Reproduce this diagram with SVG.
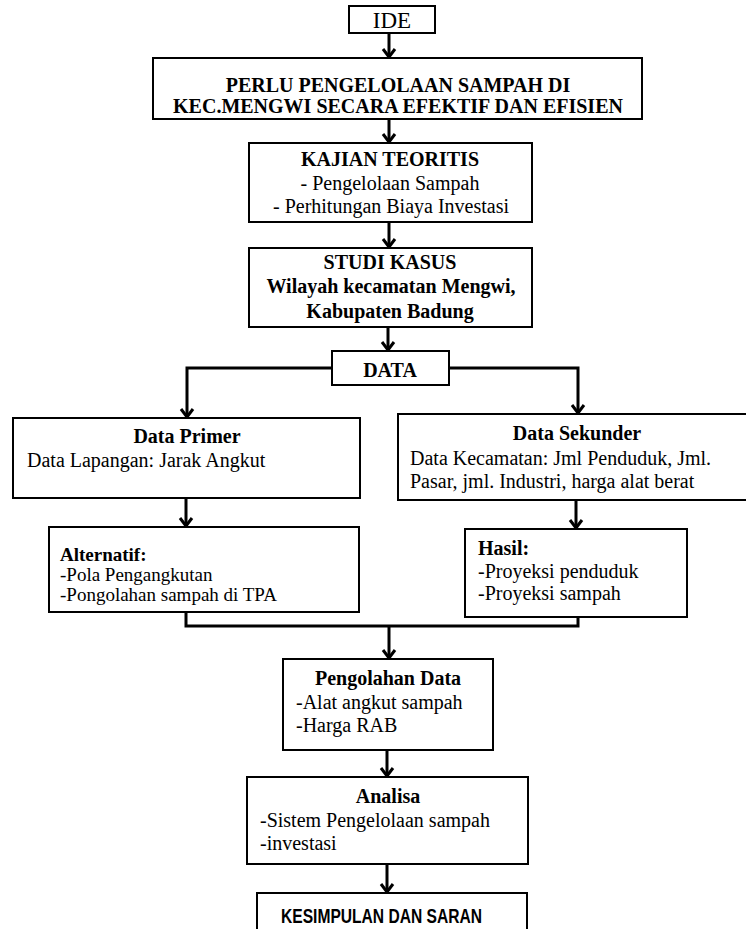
<svg xmlns="http://www.w3.org/2000/svg" width="746" height="929" viewBox="0 0 746 929">
<style>
.box{fill:#fff;stroke:#000;stroke-width:2}
.t{font-family:'Liberation Serif','Times New Roman','DejaVu Serif',serif;font-size:20px;fill:#000}
.b{font-weight:bold}
.c{text-anchor:middle}
.sm{font-size:19px}
.big{font-size:23px}
.conn{fill:none;stroke:#000;stroke-width:3;stroke-linejoin:miter}
.ks{font-family:'Liberation Sans',Arial,sans-serif;font-size:20px;font-weight:bold;fill:#000}
</style>
<defs>
<marker id="arr" markerUnits="userSpaceOnUse" viewBox="-14 -9 16 18" refX="0" refY="0" markerWidth="16" markerHeight="18" orient="auto">
<path d="M-9,-6 L-1,0 L-9,6" fill="none" stroke="#000" stroke-width="3"/>
</marker>
</defs>
<rect width="746" height="929" fill="#fff"/>
<g id="connectors">
<line class="conn" x1="389" y1="33" x2="389" y2="58" marker-end="url(#arr)"/>
<line class="conn" x1="389" y1="119" x2="389" y2="143" marker-end="url(#arr)"/>
<line class="conn" x1="389" y1="222" x2="389" y2="248" marker-end="url(#arr)"/>
<line class="conn" x1="388" y1="327" x2="388" y2="351" marker-end="url(#arr)"/>
<polyline class="conn" points="332,368 187,368 187,418" marker-end="url(#arr)"/>
<polyline class="conn" points="449,368 578,368 578,414" marker-end="url(#arr)"/>
<line class="conn" x1="186" y1="498" x2="186" y2="527" marker-end="url(#arr)"/>
<line class="conn" x1="576" y1="500" x2="576" y2="529" marker-end="url(#arr)"/>
<polyline class="conn" points="186,612 186,626 578,626 578,617"/>
<line class="conn" x1="389" y1="626" x2="389" y2="659" marker-end="url(#arr)"/>
<line class="conn" x1="387" y1="750" x2="387" y2="777" marker-end="url(#arr)"/>
<line class="conn" x1="387" y1="864" x2="387" y2="893" marker-end="url(#arr)"/>
</g>
<g id="ide">
<rect class="box" x="349" y="6" width="86" height="27"/>
<text class="t big c" x="392" y="28">IDE</text>
</g>
<g id="perlu">
<rect class="box" x="153" y="58" width="489" height="61"/>
<text class="t b c" x="398" y="92">PERLU PENGELOLAAN SAMPAH DI</text>
<text class="t b c" x="398" y="113">KEC.MENGWI SECARA EFEKTIF DAN EFISIEN</text>
</g>
<g id="kajian">
<rect class="box" x="249" y="143" width="283" height="79"/>
<text class="t b c" x="390" y="166">KAJIAN TEORITIS</text>
<text class="t c" x="390" y="190">- Pengelolaan Sampah</text>
<text class="t c" x="391" y="213">- Perhitungan Biaya Investasi</text>
</g>
<g id="studi">
<rect class="box" x="249" y="248" width="283" height="79"/>
<text class="t b c" x="390" y="269">STUDI KASUS</text>
<text class="t b c" x="391" y="293">Wilayah kecamatan Mengwi,</text>
<text class="t b c" x="390" y="318">Kabupaten Badung</text>
</g>
<g id="data">
<rect class="box" x="332" y="351" width="117" height="34"/>
<text class="t b c" x="390" y="377">DATA</text>
</g>
<g id="primer">
<rect class="box" x="13" y="418" width="347" height="80"/>
<text class="t b c" x="187" y="443">Data Primer</text>
<text class="t" x="27" y="467">Data Lapangan: Jarak Angkut</text>
</g>
<g id="sekunder">
<rect class="box" x="398" y="414" width="352" height="86"/>
<text class="t b c" x="577" y="440">Data Sekunder</text>
<text class="t" x="410" y="465">Data Kecamatan: Jml Penduduk, Jml.</text>
<text class="t" x="410" y="488">Pasar, jml. Industri, harga alat berat</text>
</g>
<g id="alternatif">
<rect class="box" x="49" y="527" width="310" height="85"/>
<text class="t sm b" x="60" y="561">Alternatif:</text>
<text class="t sm" x="60" y="581">-Pola Pengangkutan</text>
<text class="t sm" x="60" y="601">-Pongolahan sampah di TPA</text>
</g>
<g id="hasil">
<rect class="box" x="465" y="529" width="222" height="88"/>
<text class="t b" x="478" y="555">Hasil:</text>
<text class="t" x="478" y="578">-Proyeksi penduduk</text>
<text class="t" x="478" y="600">-Proyeksi sampah</text>
</g>
<g id="pengolahan">
<rect class="box" x="283" y="659" width="210" height="91"/>
<text class="t b c" x="388" y="685">Pengolahan Data</text>
<text class="t" x="296" y="709">-Alat angkut sampah</text>
<text class="t" x="296" y="732">-Harga RAB</text>
</g>
<g id="analisa">
<rect class="box" x="247" y="777" width="281" height="87"/>
<text class="t b c" x="388" y="803">Analisa</text>
<text class="t" x="260" y="827">-Sistem Pengelolaan sampah</text>
<text class="t" x="260" y="850">-investasi</text>
</g>
<g id="kesimpulan">
<rect class="box" x="257" y="893" width="270" height="44"/>
<text class="ks" x="281" y="923" textLength="201" lengthAdjust="spacingAndGlyphs">KESIMPULAN DAN SARAN</text>
</g>
</svg>
